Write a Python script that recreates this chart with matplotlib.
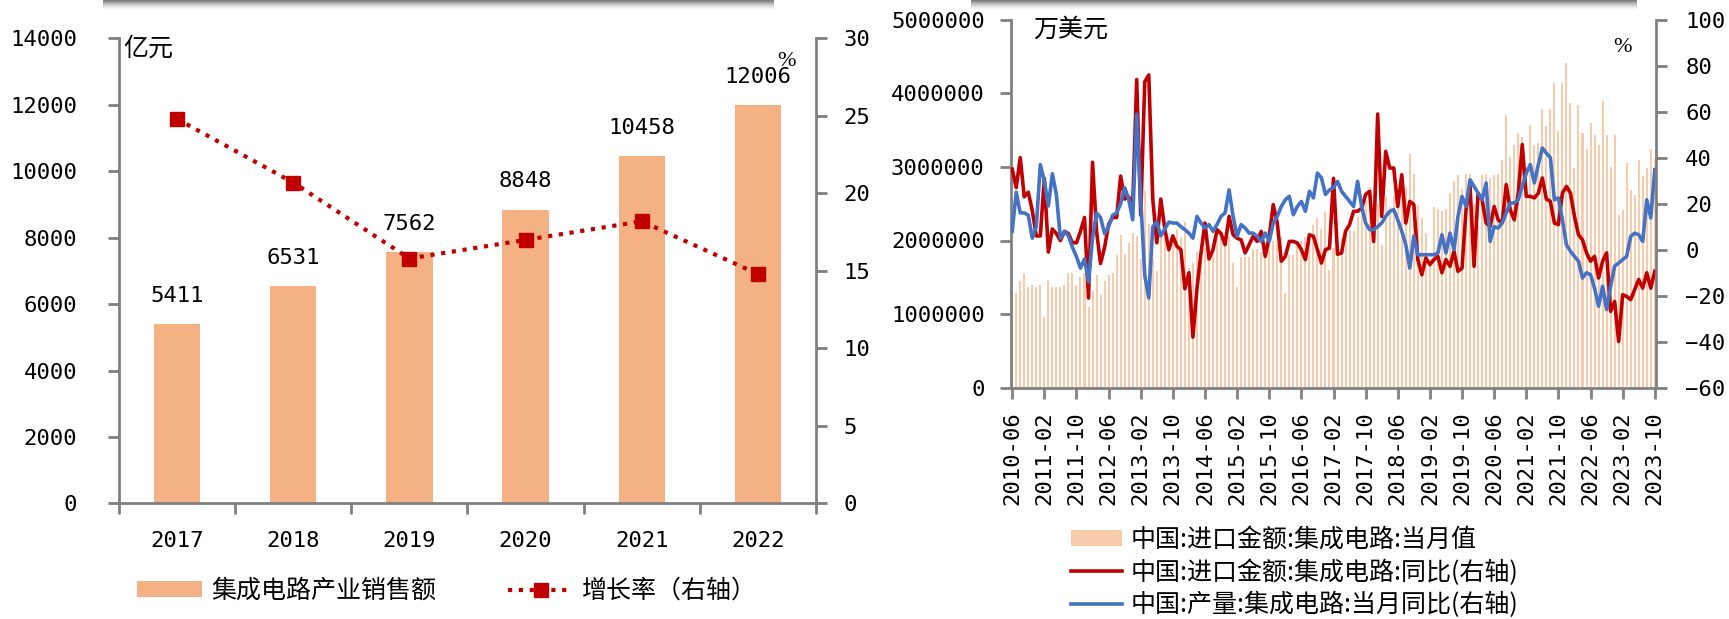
import numpy as np
import matplotlib.pyplot as plt

plt.rcParams['font.family'] = ['DejaVu Sans Mono', 'Noto Sans CJK SC']
CJK = ['Noto Sans CJK SC', 'DejaVu Sans']

# left panel: annual sales and growth
years = ['2017', '2018', '2019', '2020', '2021', '2022']
sales = [5411, 6531, 7562, 8848, 10458, 12006]
growth = [24.8, 20.7, 15.8, 17.0, 18.2, 14.8]

# right panel: monthly data 2010-06 .. 2023-10
import_val = [
    1320000, 1290000, 1450000, 1560000, 1370000, 1390000, 1370000, 1390000, 960000, 1470000,
    1370000, 1370000, 1370000, 1390000, 1560000, 1560000, 1390000, 1510000, 1560000, 1100000,
    1320000, 1530000, 1260000, 1450000, 1530000, 1560000, 1800000, 2070000, 1820000, 1960000,
    2100000, 2060000, 1750000, 2670000, 2230000, 1750000, 1580000, 2040000, 2050000, 1950000,
    2050000, 2150000, 2050000, 2250000, 1620000, 1700000, 1850000, 1850000, 1900000, 1950000,
    1950000, 2050000, 2100000, 2000000, 2050000, 1690000, 1370000, 1780000, 1780000, 1780000,
    1890000, 1880000, 1850000, 1900000, 1950000, 2000000, 1950000, 2050000, 1290000, 1820000,
    1800000, 1950000, 2000000, 2050000, 2100000, 2210000, 2300000, 2160000, 2390000, 1600000,
    1900000, 2000000, 2050000, 2100000, 2140000, 2130000, 2320000, 2400000, 2550000, 2730000,
    2600000, 2500000, 1940000, 2590000, 2460000, 2600000, 2650000, 2700000, 2730000, 3180000,
    2910000, 2480000, 2300000, 2100000, 1750000, 2450000, 2430000, 2400000, 2430000, 2640000,
    2810000, 2890000, 2700000, 2910000, 2900000, 2500000, 2200000, 2890000, 2900000, 2850000,
    2890000, 2910000, 3100000, 3700000, 3130000, 3300000, 3460000, 3400000, 3000000, 3570000,
    3300000, 3330000, 3780000, 3550000, 3780000, 4140000, 3490000, 4140000, 4410000, 3870000,
    2990000, 3840000, 3460000, 3240000, 3590000, 3430000, 3300000, 3900000, 3430000, 3000000,
    3430000, 2340000, 2420000, 3050000, 2690000, 2620000, 3100000, 2870000, 2980000, 3240000,
    3110000,
]
import_yoy = [
    35, 27, 40, 23, 25, 17, 6, 6, 31, -1,
    9, 7, 4, 8, 7, 3, 3, 8, 14, -21,
    38, 8, -6, 1, 11, 14, 14, 32, 22, 23,
    19, 74, 15, 73, 76, 22, 3, 22, 9, 0,
    6, 1.5, 0, -17, -10, -38, -17, -1.5, 11.6, -4,
    0, 8.7, 7, 2.2, 14.5, 6.5, 5, 4.3, -1.4, 2.2,
    5.8, 3.6, 8, -2.9, 5.8, 19.6, 11.6, -5, -2.9, 3.6,
    3.6, 2.9, 0, -4.3, 6.5, 5.8, 0, -5.8, 0, 0.7,
    31, -2, -1.4, 8, 10.9, 16.7, 16.7, 18, 24, 25.4,
    3.6, 59, 14.5, 42.8, 35.5, 35.5, 18.8, 32.6, 11.6, 21,
    19.6, -4.3, -10.9, -3.6, -6.5, -4.3, -2.9, -10, -4.3, -7.2,
    -0.7, -9.4, -8, 17.4, 27.5, -7.2, 24.6, 21.7, 11.6, 10,
    18.8, 13, 11.6, 28.3, 17.4, 13, 24.6, 45.7, 23.2, 23.2,
    22.5, 24.6, 31.2, 22, 21, 11.6, 10.9, 24.6, 27.5, 24.6,
    14.5, 6.5, 4.3, -1.4, -5, -2.9, -12.3, -5, -1.4, -26.8,
    -22.5, -39.9, -19.6, -20.3, -21.7, -17.4, -13, -16.7, -10, -16.7,
    -9.4,
]
output_yoy = [
    8, 25, 16, 16, 15, 5, 10, 37, 30, 19,
    33, 24, 5, 8, 6, 1, -3, -8, -4, -14,
    5, 16, 14, 7, 10, 15, 16, 20, 27, 22,
    13, 59, 22, -11, -21, 10, 12, 6, 9, 12,
    11.6, 11.6, 10, 8.7, 7.2, 5, 14.5, 11.6, 9.4, 10.9,
    8, 11, 14.5, 16, 26, 14.5, 5.8, 10.9, 9.4, 7.2,
    7.2, 5.8, 3.6, 7.2, 3.6, 11.6, 14.5, 18.8, 21.7, 23.2,
    15.2, 18.8, 21, 16.7, 25.4, 22.5, 33.3, 31.2, 24, 26,
    27, 29.7, 25.4, 23.2, 21, 18.8, 29.7, 18.8, 11.6, 8.7,
    8.7, 10, 11.6, 14.5, 16.7, 17.4, 13, 8, 2.2, -8,
    6, -2.2, -2.2, -2.2, -2.2, -2.2, -1.4, 6.5, -1.4, 7.2,
    0, 14.5, 23.2, 18.8, 30.4, 27.5, 24.6, 21.7, 29, 3.6,
    10, 9.4, 11.6, 15.9, 20.3, 20.3, 21.7, 27.5, 33.3, 37,
    29, 37, 44.2, 42, 40, 21.7, 22.5, 13, 2.2, -0.7,
    -2.9, -5, -12.3, -10, -10.9, -16.7, -24.6, -15.9, -26, -15.9,
    -7.2, -5.8, -4.3, -2.9, 5.8, 7.2, 6.5, 3.6, 21.7, 13.8,
    34.8,
]
month_ticks = ['2010-06', '2011-02', '2011-10', '2012-06', '2013-02', '2013-10',
               '2014-06', '2015-02', '2015-10', '2016-06', '2017-02', '2017-10',
               '2018-06', '2019-02', '2019-10', '2020-06', '2021-02', '2021-10',
               '2022-06', '2023-02', '2023-10']

grey = '#808080'
fig = plt.figure(figsize=(17.29, 6.19), dpi=100)

# shadow strips at the top edge
grad = np.linspace(0.6, 0.0, 20).reshape(-1, 1)
for x0, x1 in [(103, 774), (971, 1637)]:
    sax = fig.add_axes([x0 / 1729, 1 - 10 / 619, (x1 - x0) / 1729, 10 / 619])
    sax.imshow(grad, cmap='Greys', vmin=0, vmax=1, aspect='auto')
    sax.axis('off')

# ---------- left chart ----------
ax1 = fig.add_axes([119 / 1729, 1 - 503.4 / 619, 697 / 1729, 465 / 619])
x = np.arange(len(years))
b1 = ax1.bar(x, sales, width=0.4, color='#F4B183', label='集成电路产业销售额', zorder=2)
for xi, v in zip(x, sales):
    ax1.annotate(str(v), (xi, v), xytext=(0, 13), textcoords='offset points',
                 ha='center', va='bottom', fontsize=16)
ax1.set_xlim(-0.5, 5.5)
ax1.set_ylim(0, 14000)
ax1.set_yticks(range(0, 14001, 2000))
ax1.set_xticks(x, years)
ax1.set_xticks(np.arange(-0.5, 6, 1), minor=True)
ax1.tick_params(axis='x', which='major', length=0, pad=20, labelsize=16)
ax1.tick_params(axis='x', which='minor', length=8, width=2, color=grey)
ax1.tick_params(axis='y', length=8, width=2, color=grey, pad=22, labelsize=16)
for s in ['top', 'right']:
    ax1.spines[s].set_visible(False)
for s in ['left', 'bottom']:
    ax1.spines[s].set_color(grey)
    ax1.spines[s].set_linewidth(2)

ax2 = ax1.twinx()
l1, = ax2.plot(x, growth, color='#C00000', ls=(0, (1, 1.6)), lw=3, marker='s', ms=10,
               label='增长率（右轴）')
ax2.set_ylim(0, 30)
ax2.set_yticks(range(0, 31, 5))
ax2.tick_params(axis='y', length=8, width=2, color=grey, pad=12, labelsize=16)
for s in ['top', 'left', 'bottom']:
    ax2.spines[s].set_visible(False)
ax2.spines['right'].set_color(grey)
ax2.spines['right'].set_linewidth(2)

fig.text(123 / 1729, 1 - 49 / 619, '亿元', family=CJK, fontsize=18, va='center', ha='left')
fig.text(787 / 1729, 1 - 61 / 619, '%', family=['Liberation Serif'], fontsize=16,
         va='center', ha='center')
fig.legend([b1, l1], ['集成电路产业销售额', '增长率（右轴）'], loc='center left',
           bbox_to_anchor=(137 / 1729, 1 - 591 / 619), ncol=2, frameon=False,
           prop={'family': CJK, 'size': 18}, borderpad=0, borderaxespad=0,
           handlelength=2.6, handleheight=0.6, handletextpad=0.35, columnspacing=2.9)

# ---------- right chart ----------
ax3 = fig.add_axes([1011 / 1729, 1 - 387.7 / 619, 645 / 1729, 368 / 619])
m = np.arange(len(import_val))
b2 = ax3.bar(m, import_val, width=0.5, color='#F8CBAD', zorder=2)
ax3.set_xlim(-0.3, len(m) - 0.7)
ax3.set_ylim(0, 5000000)
ax3.set_yticks(range(0, 5000001, 1000000))
ax3.ticklabel_format(axis='y', style='plain', useOffset=False)
ax3.set_xticks(m[::8], month_ticks, rotation=90)
ax3.tick_params(axis='x', length=8, width=2, color=grey, pad=9, labelsize=16)
ax3.tick_params(axis='y', length=8, width=2, color=grey, pad=11, labelsize=16)
for s in ['top', 'right']:
    ax3.spines[s].set_visible(False)
for s in ['left', 'bottom']:
    ax3.spines[s].set_color(grey)
    ax3.spines[s].set_linewidth(2)

ax4 = ax3.twinx()
l2, = ax4.plot(m, import_yoy, color='#C00000', lw=2.6)
l3, = ax4.plot(m, output_yoy, color='#4472C4', lw=2.6)
ax4.set_ylim(-60, 100)
ax4.set_yticks(range(-60, 101, 20))
ax4.tick_params(axis='y', length=8, width=2, color=grey, pad=13, labelsize=16)
for s in ['top', 'left', 'bottom']:
    ax4.spines[s].set_visible(False)
ax4.spines['right'].set_color(grey)
ax4.spines['right'].set_linewidth(2)

fig.text(1033 / 1729, 1 - 30 / 619, '万美元', family=CJK, fontsize=18, va='center', ha='left')
fig.text(1623 / 1729, 1 - 48 / 619, '%', family=['Liberation Serif'], fontsize=16,
         va='center', ha='center')
fig.legend([b2, l2, l3],
           ['中国:进口金额:集成电路:当月值', '中国:进口金额:集成电路:同比(右轴)',
            '中国:产量:集成电路:当月同比(右轴)'],
           loc='upper left', bbox_to_anchor=(1071 / 1729, 1 - 527 / 619), frameon=False,
           prop={'family': CJK, 'size': 18}, borderpad=0, borderaxespad=0,
           handlelength=2.05, handleheight=0.6, handletextpad=0.35, labelspacing=0.25)

fig.savefig('out.png', dpi=100)
